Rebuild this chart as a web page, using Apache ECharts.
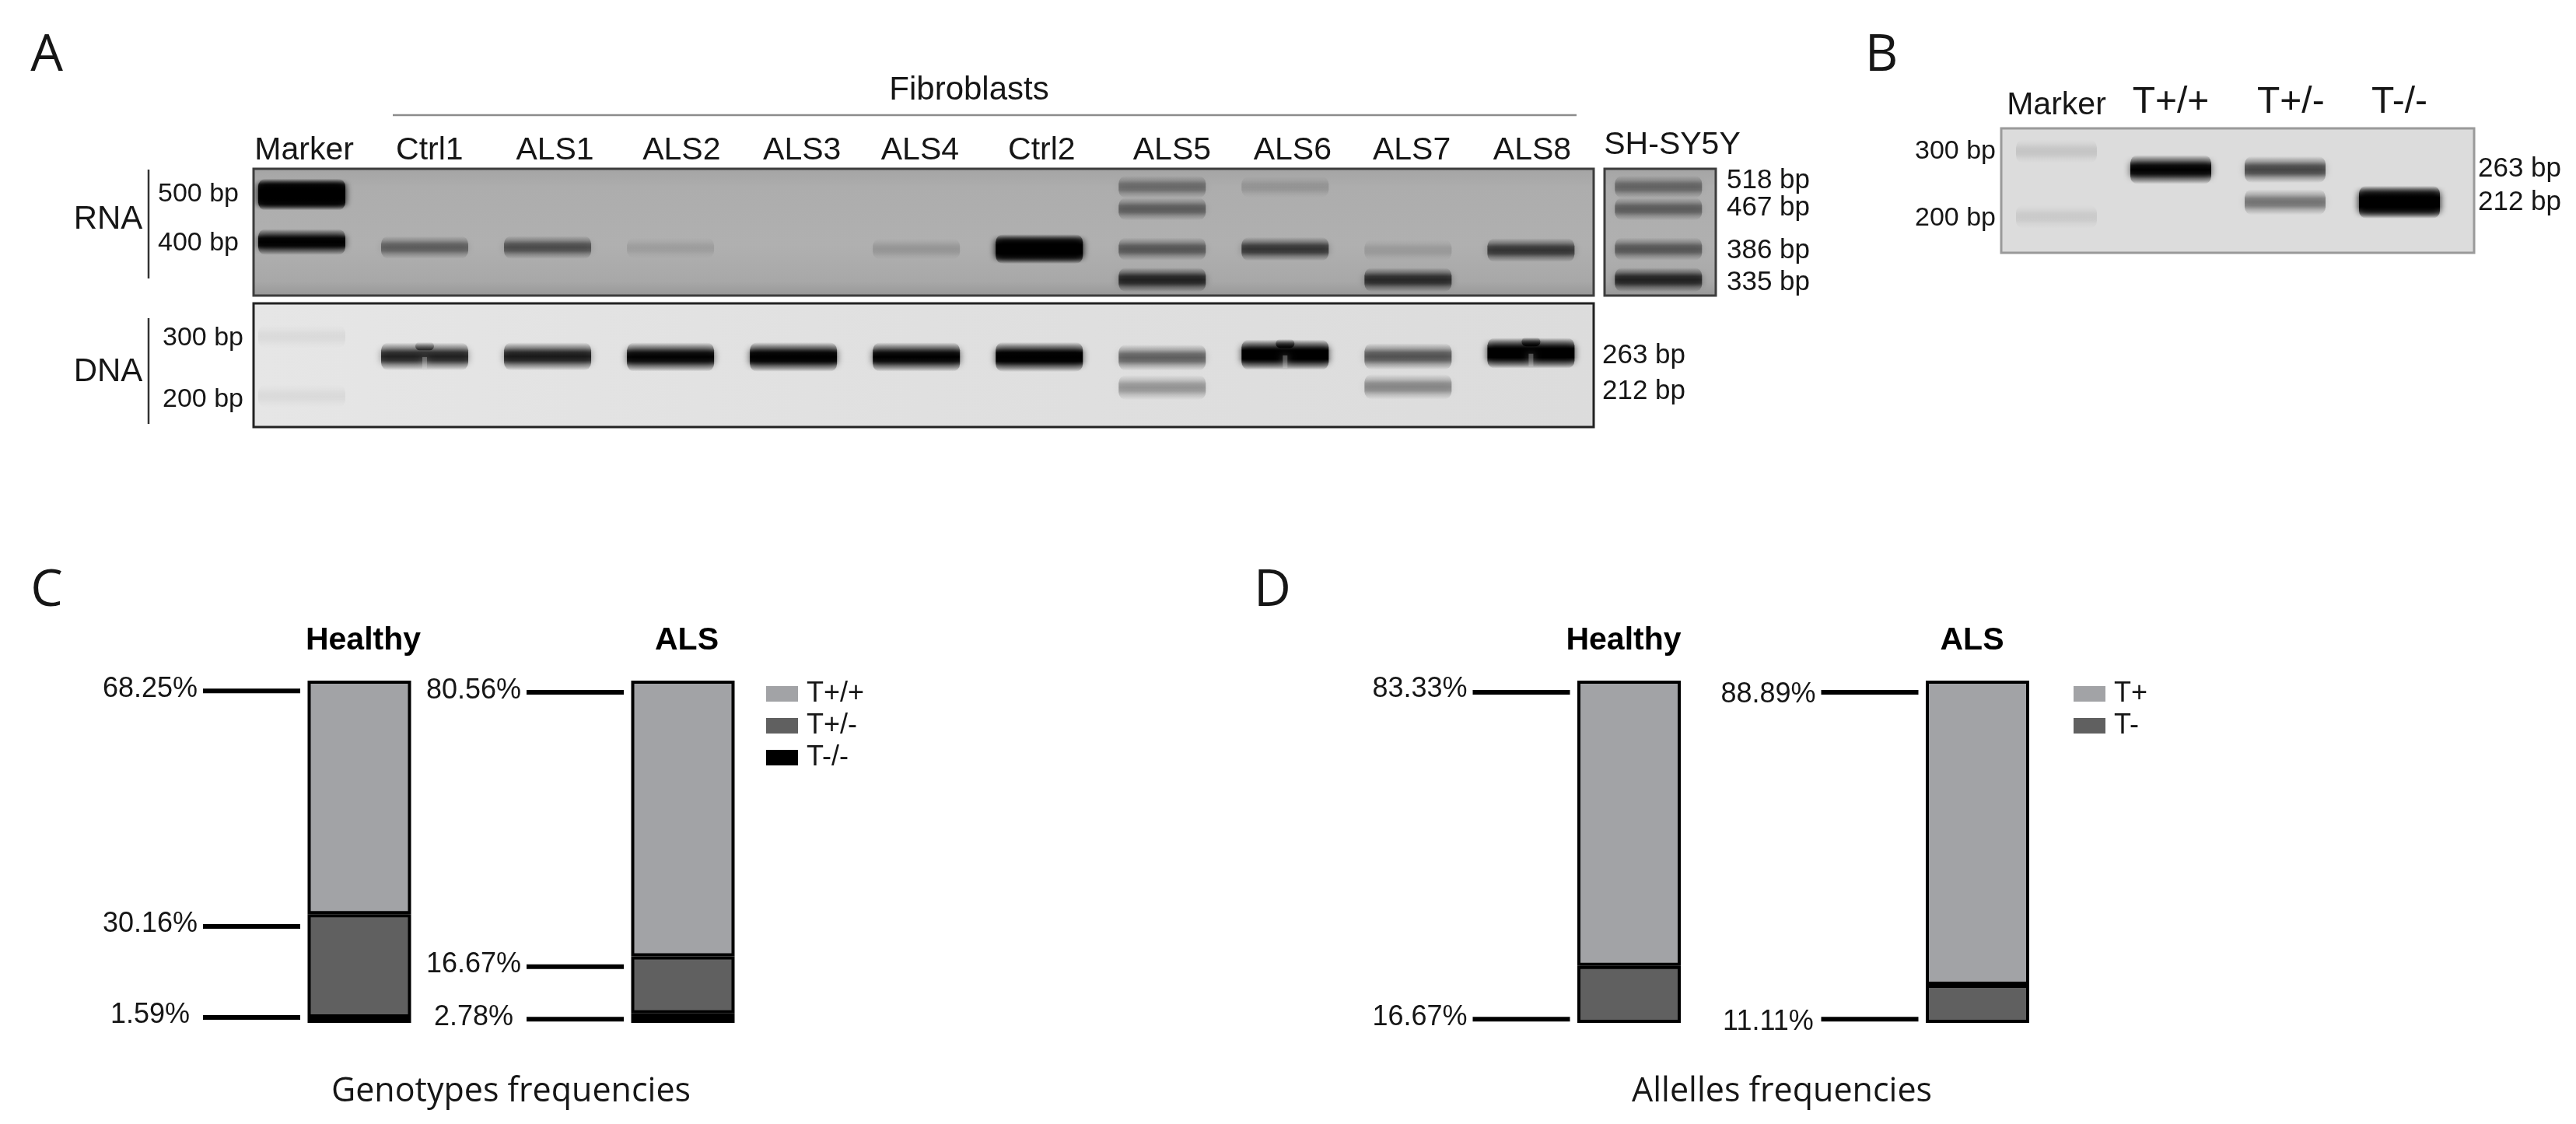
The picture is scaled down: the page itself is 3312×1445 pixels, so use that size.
<!DOCTYPE html>
<html><head><meta charset="utf-8">
<style>html,body{margin:0;padding:0;background:#fff}#c{width:3312px;height:1445px}</style>
<script src="https://cdn.jsdelivr.net/npm/echarts@6/dist/echarts.min.js"></script>
</head><body><div id="c"></div>
<script>
// ---------- data ----------
const lanesA = ['Marker','Ctrl1','ALS1','ALS2','ALS3','ALS4','Ctrl2','ALS5','ALS6','ALS7','ALS8'];
const lanesA_labelShift = [0.02,0.04,0.06,0.09,0.07,0.03,0.02,0.08,0.06,0.03,0.01];
const lanesB = ['Marker','T+/+','T+/-','T-/-'];
// gel bands: [lane, apparent size bp, band load, notched]
const rnaBands = [[0,500,2.1],[0,400,1.05],[1,390,.42],[2,390,.5],[3,389,.1],[5,387,.14],[6,387,1.7],
  [7,518,.35],[7,467,.42],[7,387,.45],[7,335,.72],[8,518,.14],[8,387,.62],[9,385,.12],[9,335,.68],[10,385,.62]];
const shBands = [[0,518,.38],[0,467,.42],[0,387,.45],[0,335,.72]];
const dnaBands = [[0,300,.05],[0,200,.05],[1,262,.78,1],[2,262,.82],[3,261,.98],[4,261,1.05],[5,261,1],[6,261,1.1],
  [7,260,.5],[7,212,.3],[8,265,1.2,1],[9,262,.55],[9,213,.35],[10,268,1.25,1]];
const bBands = [[0,300,.1],[0,200,.08],[1,268,1],[2,268,.6],[2,219,.42],[3,219,1.6]];
const rnaLeftTicks = [[500,'500 bp'],[398,'400 bp']];
const shTopTick = [[533,'518 bp']];
const shRightTicks = [[470,'467 bp'],[384,'386 bp'],[331,'335 bp']];
const dnaLeftTicks = [[297,'300 bp'],[195,'200 bp']];
const dnaRightTicks = [[263,'263 bp'],[206,'212 bp']];
const bLeftTicks = [[300,'300 bp'],[198,'200 bp']];
const bRightTicks = [[269,'263 bp'],[219,'212 bp']];
const groups = ['Healthy','ALS'];
const genoPP = [68.25,80.56];
const genoPM = [30.16,16.67];
const genoMM = [1.59,2.78];
const alleleP = [83.33,88.89];
const alleleM = [16.67,11.11];

// ---------- helpers ----------
const SANS = '"Liberation Sans",Arial,sans-serif';
const INK = '#161616';
function bandRenderer(w, base, bg){
  return function(params, api){
    const I = api.value(2);
    const c = api.coord([api.value(0), api.value(1)]);
    const h = base * (0.85 + 0.22 * I);
    const al = f => Math.min(1, I * f);
    const col = f => 'rgba(0,0,0,' + al(f).toFixed(3) + ')';
    const fill = {type:'linear', x:0, y:0, x2:0, y2:1, colorStops:[
      {offset:0, color:'rgba(0,0,0,0)'}, {offset:.2, color:col(.4)}, {offset:.36, color:col(.88)},
      {offset:.5, color:col(1)}, {offset:.64, color:col(.88)}, {offset:.8, color:col(.4)}, {offset:1, color:'rgba(0,0,0,0)'}]};
    const kids = [{type:'rect', shape:{x:c[0]-w/2+5, y:c[1]-h/2, width:w-10, height:h, r:10},
      style:{fill, shadowBlur:10, shadowColor:col(.6)}}];
    if (api.value(3) === 1) {
      const bump = {type:'linear', x:0, y:0, x2:0, y2:1, colorStops:[{offset:0, color:'rgba(0,0,0,0)'}, {offset:1, color:col(.8)}]};
      kids.push({type:'rect', shape:{x:c[0]-12, y:c[1]-h*.52, width:24, height:h*.3, r:10},
        style:{fill:bump, shadowBlur:6, shadowColor:col(.2)}});
      kids.push({type:'rect', shape:{x:c[0]-3, y:c[1]+h*.02, width:6, height:h*.42},
        style:{fill:bg, opacity:.3, shadowBlur:10, shadowColor:bg}});
    }
    return {type:'group', children:kids};
  };
}
function nearestLabel(ticks){
  return v => ticks.reduce((b,t)=>Math.abs(t[0]-v)<Math.abs(b[0]-v)?t:b)[1];
}
function logAxis(grid, min, max, pos, ticks, margin, fs){
  const a = {type:'log', gridIndex:grid, min, max, position:pos, logBase:Math.E,
    axisLine:{show:false}, axisTick:{show:false}, splitLine:{show:false}, minorTick:{show:false}, minorSplitLine:{show:false}};
  if (ticks) a.axisLabel = {show:true, customValues:ticks.map(t=>t[0]), formatter:nearestLabel(ticks), margin, color:INK,
      fontFamily:SANS, fontSize:fs||34, hideOverlap:false};
  else a.axisLabel = {show:false};
  return a;
}
function laneAxis(grid, min, max, names, shift, margin, big){
  const a = {type:'value', gridIndex:grid, min, max, position:'top',
    axisLine:{show:false}, axisTick:{show:false}, splitLine:{show:false}};
  if (names) a.axisLabel = {show:true, margin, color:INK, fontFamily:SANS, fontSize:41, hideOverlap:false, showMinLabel:true, showMaxLabel:true,
      customValues:names.map((n,i)=>i+(shift?shift[i]:0)),
      rich:{big:{fontFamily:SANS, fontSize:big||41, color:INK}},
      formatter:v=>{const n=names[Math.round(v)]; return big && n!=='Marker' ? '{big|'+n+'}' : n;}};
  else a.axisLabel = {show:false};
  return a;
}
function gelSeries(g, data, w, base, bg){
  return {type:'custom', coordinateSystem:'cartesian2d', xAxisIndex:g, yAxisIndex:g, clip:true, silent:true,
    encode:{x:0,y:1}, data:data.map(d=>[d[0],d[1],d[2],d[3]||0]), renderItem:bandRenderer(w, base, bg)};
}
function leaderSeries(g, rows){
  return {type:'custom', coordinateSystem:'cartesian2d', xAxisIndex:g, yAxisIndex:g, silent:true, clip:false,
    encode:{x:0,y:1}, data:rows, z:5,
    renderItem(p, api){
      const cx = api.coord([api.value(0), 0])[0];
      const yl = api.coord([0, api.value(1)])[1], yt = api.coord([0, api.value(2)])[1];
      const x2 = cx - 76, x1 = x2 - 125;
      return {type:'group', children:[
        {type:'line', shape:{x1,y1:yl,x2,y2:yl}, style:{stroke:'#000', lineWidth:6}},
        {type:'text', style:{text:rows[p.dataIndex][3], x:x1-68, y:yt+2, textAlign:'center', textVerticalAlign:'middle',
          fontFamily:SANS, fontSize:36, fill:INK}}
      ]};
    }};
}
function stackBar(name, g, values, color){
  return {type:'bar', name, xAxisIndex:g, yAxisIndex:g, stack:'s'+g, barWidth:133, data:values, silent:true,
    itemStyle:{color, borderColor:'#000', borderWidth:4}};
}
function barCatAxis(g, names, pad){
  return {type:'category', gridIndex:g, data:names, position:'top', axisLine:{show:false}, axisTick:{show:false},
    axisLabel:{margin:31, fontFamily:SANS, fontWeight:'bold', fontSize:41, color:'#000', padding:pad}};
}
function valAxis(g){
  return {type:'value', gridIndex:g, min:0, max:100, show:false};
}
function txt(text, x, y, font, align){
  return {type:'text', x, y, silent:true, style:{text, font, fill:INK, textAlign:align||'center', textVerticalAlign:'middle'}};
}
function vline(x,y1,y2,color,w){
  return {type:'line', silent:true, shape:{x1:x,y1,x2:x,y2}, style:{stroke:color||'#333', lineWidth:w||2.5}};
}

const rnaBg = {type:'linear', x:0, y:0, x2:0, y2:1, colorStops:[{offset:0,color:'#a4a4a4'},{offset:.15,color:'#adadad'},{offset:.6,color:'#b0b0b0'},{offset:.88,color:'#a8a8a8'},{offset:1,color:'#979797'}]};
const dnaBg = {type:'linear', x:0,y:0,x2:1,y2:0, colorStops:[{offset:0,color:'#e6e6e6'},{offset:.5,color:'#e0e0e0'},{offset:1,color:'#dcdcdc'}]};
const bBg = '#dcdcdc';

const laneMin = -0.392, laneMax = 10.51;
const legendText = {fontFamily:SANS, fontSize:36, color:INK, padding:[0,0,0,6]};
const option = {
  animation:false, backgroundColor:'#fff',
  grid:[
    {left:326, top:217, width:1723, height:163, show:true, backgroundColor:rnaBg, borderColor:'#3d3d3d', borderWidth:3},
    {left:2063, top:217, width:143, height:163, show:true, backgroundColor:rnaBg, borderColor:'#3d3d3d', borderWidth:3},
    {left:326, top:390, width:1723, height:159, show:true, backgroundColor:dnaBg, borderColor:'#222', borderWidth:3},
    {left:2573, top:165, width:608, height:160, show:true, backgroundColor:bBg, borderColor:'#9a9a9a', borderWidth:3},
    {left:254, top:875, width:832, height:440},
    {left:1870.5, top:875, width:896, height:440}
  ],
  xAxis:[
    laneAxis(0, laneMin, laneMax, lanesA, lanesA_labelShift, 3),
    laneAxis(1, -0.47, 0.50, null),
    laneAxis(2, laneMin, laneMax, null),
    laneAxis(3, -0.483, 3.653, lanesB, [0,0,0.05,0], 9, 48),
    barCatAxis(4, groups, [0,0,0,10]),
    barCatAxis(5, groups, [0,14,0,0])
  ],
  yAxis:[
    logAxis(0, 311, 564, 'left', rnaLeftTicks, 19),
    logAxis(1, 311, 564, 'right', shRightTicks, 14, 35),
    logAxis(2, 162, 376, 'left', dnaLeftTicks, 13),
    logAxis(3, 160, 346, 'left', bLeftTicks, 7),
    valAxis(4),
    valAxis(5),
    logAxis(2, 162, 376, 'right', dnaRightTicks, 11, 35),
    logAxis(3, 160, 346, 'right', bRightTicks, 5, 35),
    logAxis(1, 311, 564, 'right', shTopTick, 14, 35)
  ],
  legend:[
    {orient:'vertical', left:980, top:869, itemWidth:41, itemHeight:20, itemGap:5, selectedMode:false, icon:'rect',
      data:['T+/+','T+/-','T-/-'], itemStyle:{borderWidth:0}, textStyle:legendText},
    {orient:'vertical', left:2661, top:869, itemWidth:41, itemHeight:20, itemGap:5, selectedMode:false, icon:'rect',
      data:['T+','T-'], itemStyle:{borderWidth:0}, textStyle:legendText}
  ],
  series:[
    gelSeries(0, rnaBands, 122, 31, '#adadad'),
    gelSeries(1, shBands, 122, 31, '#adadad'),
    gelSeries(2, dnaBands, 122, 35, '#e0e0e0'),
    gelSeries(3, bBands, 114, 35, '#dcdcdc'),
    stackBar('T-/-', 4, genoMM, '#000000'),
    stackBar('T+/-', 4, genoPM, '#606060'),
    stackBar('T+/+', 4, genoPP, '#a2a3a6'),
    leaderSeries(4, [
      [0,97,98,genoPP[0]+'%'],[0,28.2,29.3,genoPM[0]+'%'],[0,1.6,2.7,genoMM[0]+'%'],
      [1,96.6,97.5,genoPP[1]+'%'],[1,16.4,17.5,genoPM[1]+'%'],[1,1.1,2,genoMM[1]+'%']]),
    stackBar('T-', 5, alleleM, '#606060'),
    stackBar('T+', 5, alleleP, '#a2a3a6'),
    leaderSeries(5, [
      [0,96.6,97.9,alleleP[0]+'%'],[0,1.1,2,alleleM[0]+'%'],
      [1,96.6,96.4,alleleP[1]+'%'],[1,1.1,0.7,alleleM[1]+'%']])
  ],
  graphic:[
    txt('A', 60, 72, '400 66px "Open Sans"'),
    txt('B', 2419, 72, '400 66px "Open Sans"'),
    txt('C', 60, 760, '400 66px "Open Sans"'),
    txt('D', 1636, 760, '400 66px "Open Sans"'),
    txt('Fibroblasts', 1246, 116, '42px '+SANS),
    txt('SH-SY5Y', 2150, 187, '41px '+SANS),
    txt('RNA', 139, 282, '42px '+SANS),
    txt('DNA', 139, 478, '42px '+SANS),
    txt('Genotypes frequencies', 657, 1404, '43px "Open Sans"'),
    txt('Allelles frequencies', 2291, 1404, '43px "Open Sans"'),
    {type:'line', silent:true, shape:{x1:505,y1:148,x2:2027,y2:148}, style:{stroke:'#8c8c8c', lineWidth:2.5}},
    vline(191,218,358),
    vline(191,409,545)
  ]
};
const chart = echarts.init(document.getElementById('c'), null, {renderer:'canvas'});
chart.setOption(option);
</script></body></html>
